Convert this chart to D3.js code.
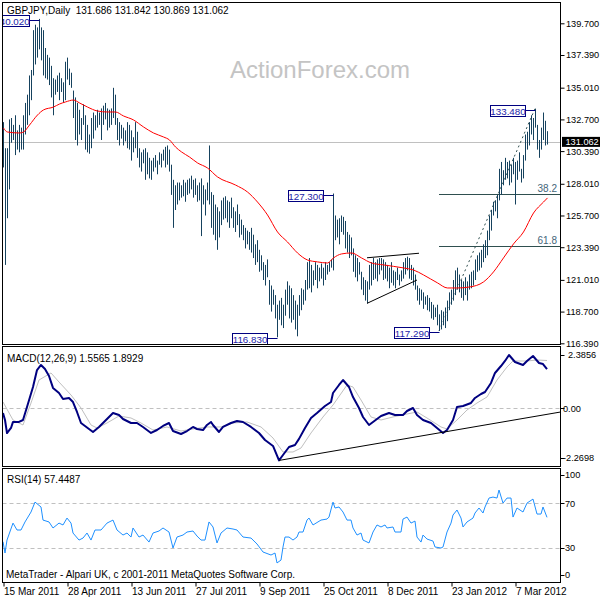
<!DOCTYPE html>
<html><head><meta charset="utf-8">
<script src="https://cdn.jsdelivr.net/npm/d3@7"></script>
<style>
body{margin:0;background:#fff}
svg{display:block}
text{font-family:"Liberation Sans",Arial,sans-serif;font-size:10px;fill:#000}
text.ax{font-size:9.2px}
text.bx{font-size:9.8px}
</style></head>
<body><svg id="chart" width="600" height="600"></svg>
<script>
// ---------------- DATA ----------------
const symbolTitle = "GBPJPY,Daily";
const lastOHLC = ["131.686", "131.842", "130.869", "131.062"];
const lastClose = 131.062;
const watermark = "ActionForex.com";
const footer = "MetaTrader - Alpari UK, c 2001-2011 MetaQuotes Software Corp.";

const dateLabels = ["15 Mar 2011","28 Apr 2011","13 Jun 2011","27 Jul 2011","9 Sep 2011","25 Oct 2011","8 Dec 2011","23 Jan 2012","7 Mar 2012"];
const dateLabelBars = [0,32,64,96,128,160,192,224,256];

const priceTicks = [139.700,137.390,135.010,132.700,130.390,128.010,125.700,123.390,121.010,118.700,116.390];

const high = [
132.5,130.6,130.6,132.7,132.8,132.3,133.0,131.9,132.3,132.1,
133.0,133.9,134.5,135.9,136.3,139.2,139.6,139.4,140.02,139.4,
139.2,137.9,137.4,137.2,136.6,135.7,135.6,135.9,136.1,135.7,
135.4,136.9,137.2,136.4,136.1,134.8,134.3,133.9,133.4,132.8,
133.8,133.0,132.3,131.6,132.8,133.2,133.0,133.4,133.2,133.5,
133.7,133.9,133.5,133.4,133.5,135.0,134.5,132.8,132.5,132.3,
132.1,131.9,132.5,132.3,131.9,131.4,132.5,131.8,130.6,130.3,
130.5,130.6,130.3,129.9,129.7,129.9,130.1,129.7,130.3,130.2,
130.5,130.7,130.8,130.5,129.4,128.3,127.9,128.1,128.1,127.9,
128.3,128.1,128.3,128.4,128.6,128.3,128.4,127.9,128.1,128.4,
127.9,127.6,128.1,130.8,127.4,127.2,126.5,126.3,126.0,126.8,
127.0,127.1,126.8,126.7,127.0,126.3,126.0,126.5,125.8,125.4,
125.0,124.8,124.6,124.5,124.8,124.3,123.6,123.9,123.2,122.8,
122.3,122.1,122.5,121.0,120.6,120.3,119.9,119.2,119.5,119.7,
119.2,120.3,120.9,120.6,120.4,119.9,119.5,119.2,119.9,120.4,
120.3,121.0,122.3,122.6,122.1,121.7,122.3,122.1,121.9,122.2,
121.9,122.3,122.1,122.3,122.5,127.3,125.7,125.4,125.5,125.7,
125.6,125.3,124.5,124.3,124.1,123.3,122.8,122.6,122.3,121.6,
121.2,121.0,120.9,122.1,122.3,122.6,122.3,122.5,122.6,122.6,
122.5,122.3,122.1,121.9,122.3,121.7,121.6,121.9,121.4,121.7,
122.3,122.6,122.7,122.6,122.1,121.9,121.4,120.6,120.4,120.3,
120.1,119.8,119.9,119.7,119.4,119.2,119.0,119.2,118.5,118.8,
118.7,119.0,119.5,120.1,120.3,121.0,121.7,121.9,121.4,121.0,
120.9,121.2,120.9,121.4,121.6,121.7,122.5,122.8,123.0,123.2,
123.6,123.9,124.6,125.7,126.1,126.7,126.8,127.2,129.1,129.6,
129.0,129.9,129.6,129.7,129.4,129.9,129.6,129.7,130.3,129.1,
130.1,131.6,131.8,132.5,133.0,132.8,133.48,132.3,131.2,132.1,
133.2,132.6,131.842];

const low = [
129.2,122.1,125.5,127.6,131.0,131.2,130.1,130.5,130.3,130.5,
130.5,131.6,132.3,133.0,134.1,135.9,136.7,137.2,137.8,137.0,
135.9,135.7,135.6,135.2,134.3,133.0,134.5,134.7,134.1,134.7,
133.9,134.1,135.6,135.2,135.0,132.8,131.2,130.8,131.6,131.2,
132.3,130.5,130.3,130.2,130.6,131.3,131.9,132.1,132.3,131.2,
132.3,132.7,131.9,132.1,132.3,132.8,132.3,131.2,130.8,131.3,
130.8,131.1,130.6,130.5,129.7,130.3,130.6,129.9,129.2,128.9,
129.5,128.3,128.7,128.4,128.3,128.9,129.2,128.7,129.4,129.2,
129.7,129.2,129.4,128.9,127.2,124.8,126.1,126.5,126.8,127.0,
127.1,126.7,127.2,127.3,127.6,127.0,127.2,126.7,126.8,124.2,
126.5,125.7,126.8,126.5,124.8,124.3,123.9,123.2,124.1,125.0,
125.4,125.5,125.2,124.8,125.5,124.8,124.5,125.0,124.1,124.3,
123.9,123.3,123.6,123.2,123.0,122.6,122.1,122.3,121.6,121.7,
121.0,120.6,121.2,119.2,118.7,119.2,118.2,116.83,118.1,117.7,
117.5,118.4,119.2,118.2,117.9,118.1,117.4,116.9,118.4,118.8,
119.2,119.5,120.3,120.4,120.1,120.6,121.0,120.4,120.9,121.1,
120.6,121.0,121.4,121.6,121.9,121.7,123.9,124.1,123.6,124.5,
124.3,123.3,123.0,122.6,122.8,121.6,121.2,120.9,121.4,120.3,
119.9,119.5,119.3,120.3,120.6,121.0,121.1,120.9,121.4,121.7,
121.0,121.1,120.9,120.4,120.8,120.6,120.4,121.0,120.6,120.9,
121.1,121.4,121.7,121.1,121.0,120.6,120.3,119.5,119.2,119.5,
118.9,119.2,118.8,118.7,118.2,118.1,118.3,117.7,117.29,117.4,
117.7,117.5,118.0,118.8,119.2,119.5,119.9,120.3,120.1,119.7,
119.5,119.9,119.5,120.3,120.4,120.6,121.0,121.6,121.7,121.9,
122.3,122.6,122.8,123.9,124.6,125.7,126.0,125.5,126.8,127.2,
127.9,128.3,128.4,127.9,128.1,128.7,126.5,128.3,128.9,128.1,
128.4,129.7,130.5,130.8,131.6,131.2,132.1,130.5,129.9,130.5,
131.2,130.8,130.869];

const maBars = [0,2,8,10,13,17,20,25,28,31,35,38,42,47,52,56,60,65,70,75,80,83,86,89,93,97,102,107,116,122,127,132,137,142,147,152,157,162,165,169,174,179,184,190,200,205,210,217,222,227,233,240,245,250,255,260,265,270,272];
const maValues = [132.07,131.78,131.71,131.78,132.29,133.02,133.39,133.6,133.82,133.97,134.11,133.9,133.6,133.31,133.24,133.24,132.95,132.66,132.15,131.71,131.42,131.2,130.69,130.33,129.96,129.53,129.16,128.51,127.92,127.41,126.68,125.74,124.5,123.77,122.97,122.46,122.32,122.24,122.61,122.9,122.97,122.61,122.24,122.1,121.88,121.73,121.37,120.79,120.42,120.42,120.49,120.86,121.59,122.61,123.63,124.5,125.88,126.68,126.98];

const extremeBars = [18,137,165,218,266];
const extremePrices = [140.02,116.83,127.30,117.29,133.48];

const fiboLevels = [38.2,61.8];
const fiboBars = [218,266];
const fiboPrices = [117.29,133.48];

const triUpperBars = [182,208];
const triUpperPrices = [122.62,122.95];
const triLowerBars = [182,207];
const triLowerPrices = [119.3,121.0];

const macdTitle = "MACD(12,26,9)";
const macdLast = ["1.5565","1.8929"];
const macdRange = [-2.2698, 2.3856];
const macdBars = [0,1,2,4,5,8,10,12,15,17,19,21,23,25,28,30,33,35,37,39,41,45,48,52,55,58,60,64,67,70,74,77,80,83,85,89,92,95,97,100,102,104,105,108,110,114,117,120,124,128,131,135,138,140,143,146,148,151,154,157,161,164,165,168,170,173,175,178,180,183,185,189,193,196,200,202,205,207,210,214,217,220,222,225,227,230,234,236,239,241,244,246,249,251,253,256,260,262,265,268,270,272];
const macdValues = [-0.18,-0.455,-0.97,-0.77,-0.53,-0.53,-0.455,0.06,0.847,1.517,
1.715,1.557,1.28,0.81,0.61,0.374,0.413,0.255,-0.139,-0.573,
-0.69,-0.928,-0.73,-0.415,-0.18,-0.257,-0.415,-0.573,-0.573,-0.73,
-0.967,-0.85,-0.69,-0.573,-0.89,-1.007,-0.89,-0.73,-0.81,-0.85,
-0.652,-0.533,-0.652,-0.928,-0.73,-0.573,-0.494,-0.533,-0.73,-0.967,
-1.244,-1.48,-2.05,-1.835,-1.52,-1.44,-1.2,-0.77,-0.376,-0.18,
0.097,0.255,0.61,0.926,1.123,0.847,0.452,0.019,-0.336,-0.652,
-0.533,-0.297,-0.18,-0.257,-0.257,-0.1,0.019,-0.257,-0.455,-0.573,
-0.77,-0.967,-0.85,-0.455,0.058,0.097,0.216,0.413,0.571,0.65,
1.005,1.4,1.675,1.873,2.11,1.833,1.715,1.873,2.07,1.794,
1.754,1.5565];
const signalBars = [0,5,10,14,18,24,28,34,39,44,47,52,58,64,69,75,82,89,95,102,109,115,122,129,135,140,145,149,154,160,165,172,175,179,184,189,195,202,207,212,219,222,227,232,237,242,247,252,255,262,267,272];
const signalValues = [0.255,-0.455,-0.652,0.216,1.123,1.4,1.044,0.531,0.019,-0.652,-0.77,-0.573,-0.297,-0.376,-0.573,-0.85,-0.73,-0.89,-0.81,-0.73,-0.73,-0.573,-0.533,-0.73,-1.165,-1.717,-1.717,-1.56,-0.967,-0.336,0.137,0.926,0.847,0.334,-0.336,-0.455,-0.336,-0.218,-0.139,-0.376,-0.73,-0.81,-0.455,-0.06,0.216,0.452,1.123,1.636,1.873,1.873,1.912,1.8929];
const macdTrendBars = [138, 278.75];
const macdTrendValues = [-2.05, -0.14];
const macdTickLabels = ["2.3856","0.00","-2.2698"];
const macdTickValues = [2.3856, 0, -2.2698];

const rsiTitle = "RSI(14)";
const rsiLast = "57.4487";
const rsiTicks = [100,70,30,0];
const rsiLevels = [70,30];
const rsiBars = [0,1,2,5,7,9,11,14,16,19,20,23,25,28,30,32,34,35,38,40,42,44,46,49,52,55,57,60,62,64,65,68,70,73,75,78,80,83,85,87,90,92,95,97,99,101,103,105,107,109,112,115,117,120,124,127,130,134,136,137,139,140,141,143,145,147,148,150,152,153,155,159,162,163,165,166,168,170,172,174,175,177,179,180,183,185,187,189,191,192,195,196,199,200,202,204,206,207,209,210,212,215,216,219,220,222,224,225,227,229,230,232,235,236,238,240,241,243,245,247,248,250,252,254,255,257,260,262,265,267,269,270,272];
const rsiValues = [35.6,25.5,37.1,52.3,46.1,46.1,53.3,62.2,71.1,66.7,
55,53.3,47.9,52.3,50.6,56.8,52.3,43.4,37.1,38.9,
43.4,37.1,46.1,46.1,52.3,55,46.1,41.6,43.4,39.8,
47.9,39.8,41.6,35.3,43.4,45.2,47.9,44.3,30,39.8,
41.6,44.3,45.2,40.7,37.1,37.1,53.3,48.8,34.5,43.4,
47.9,47,46.1,39.8,38.9,33.6,26.4,23.7,25.5,16.6,
19.2,30.9,39.8,39.8,37.1,39.8,44.3,44.3,55,56.8,
50.6,55,55.9,57.7,71.1,65.8,66.7,62.2,55,55,
47.9,41.6,43.4,37.1,34.5,44.3,50.6,48.8,50.6,47.9,
48.8,44.3,44.3,55.9,57.7,52.3,54.1,39.8,35.3,41.6,
38,36.2,30.9,30,30.9,44.3,52.3,59.5,64,56.8,
48.8,53.3,56.8,61.3,65.8,61.3,66.7,74.7,75.6,74.7,
81.9,70.2,74.7,74.7,57.7,65.8,62.2,70.2,73.8,60.4,
60.4,66.7,57.4487];

// ---------------- LAYOUT ----------------
const L = 2.5, R = 560.5;
const mainP = {top: 2.5, bottom: 344.5};
const macdP = {top: 346.5, bottom: 466.5};
const rsiP  = {top: 468.5, bottom: 582.5};

const svg = d3.select("#chart");
const defs = svg.append("defs");
function clip(id, p){
  defs.append("clipPath").attr("id", id).append("rect")
    .attr("x", L+0.5).attr("y", p.top+0.5).attr("width", R-L-1).attr("height", p.bottom-p.top-1);
}
clip("cMain", mainP); clip("cMacd", macdP); clip("cRsi", rsiP);

const x = d3.scaleLinear().domain([0, 278.75]).range([3, 560.5]);
const yP = d3.scaleLinear().domain([116.39, 139.70]).range([343.3, 23.3]);
const yM = d3.scaleLinear().domain(macdRange).range([466, 348]);
const yR = d3.scaleLinear().domain([0, 100]).range([581.5, 469.8]);

// ---------------- MAIN PANEL ----------------
const gMain = svg.append("g").attr("clip-path", "url(#cMain)");

gMain.append("text").attr("x", 230).attr("y", 78)
  .style("font-size", "24px").style("fill", "#c4c4c4").text(watermark);

// current price line
gMain.append("line").attr("x1", L).attr("x2", R)
  .attr("y1", Math.round(yP(lastClose)) + 0.5).attr("y2", Math.round(yP(lastClose)) + 0.5)
  .attr("stroke", "#c0c0c0").attr("stroke-width", 1);

// fibonacci
const fiboRange = fiboPrices[1] - fiboPrices[0];
fiboLevels.forEach(lv => {
  const p = fiboPrices[1] - fiboRange * lv / 100;
  const yy = Math.round(yP(p)) + 0.5;
  gMain.append("line").attr("x1", x(fiboBars[0])).attr("x2", R).attr("y1", yy).attr("y2", yy)
    .attr("stroke", "#2f4f4f").attr("stroke-width", 1);
  gMain.append("text").attr("x", 557).attr("y", yy - 3).attr("text-anchor", "end")
    .style("fill", "#44667a").text(lv.toFixed(1));
});
gMain.append("line")
  .attr("x1", x(fiboBars[0])).attr("y1", yP(fiboPrices[0]))
  .attr("x2", x(fiboBars[1])).attr("y2", yP(fiboPrices[1]))
  .attr("stroke", "#2f4f4f").attr("stroke-width", 1).attr("stroke-dasharray", "2,3");

// OHLC bars (high-low)
gMain.selectAll("line.bar").data(d3.range(high.length)).join("line").attr("class", "bar")
  .attr("x1", i => x(i) + 0.5).attr("x2", i => x(i) + 0.5)
  .attr("y1", i => yP(high[i])).attr("y2", i => yP(low[i]))
  .attr("stroke", "#16425e").attr("stroke-width", 1);

// moving average
gMain.append("path").datum(d3.range(maBars.length))
  .attr("fill", "none").attr("stroke", "#ff0000").attr("stroke-width", 1)
  .attr("d", d3.line().x(i => x(maBars[i]) + 0.5).y(i => yP(maValues[i])).curve(d3.curveMonotoneX));

// triangle
[[triUpperBars, triUpperPrices],[triLowerBars, triLowerPrices]].forEach(([b, p]) => {
  gMain.append("line").attr("x1", x(b[0])).attr("y1", yP(p[0])).attr("x2", x(b[1])).attr("y2", yP(p[1]))
    .attr("stroke", "#000").attr("stroke-width", 1);
});

// extreme price labels
extremeBars.forEach((b, k) => {
  const py = Math.round(yP(extremePrices[k]) + 1) + 0.5;
  const bx = x(b) + 0.5;
  const right = bx - 10;
  const w = 35;
  gMain.append("line").attr("x1", right).attr("x2", bx).attr("y1", py).attr("y2", py)
    .attr("stroke", "#000080").attr("stroke-width", 1);
  gMain.append("rect").attr("x", right - w).attr("y", py - 5).attr("width", w).attr("height", 11)
    .attr("fill", "#fff").attr("stroke", "#000080").attr("stroke-width", 1);
  gMain.append("text").attr("x", right - w / 2).attr("y", py + 4).attr("text-anchor", "middle")
    .attr("class", "bx").style("fill", "#2323a8").text(extremePrices[k].toFixed(3));
});

// title
svg.append("text").attr("x", 7).attr("y", 13.5).attr("xml:space", "preserve")
  .text(symbolTitle + "  " + lastOHLC.join(" "));

// ---------------- MACD PANEL ----------------
const gMacd = svg.append("g").attr("clip-path", "url(#cMacd)");
gMacd.append("line").attr("x1", L).attr("x2", R)
  .attr("y1", Math.round(yM(0)) + 0.5).attr("y2", Math.round(yM(0)) + 0.5)
  .attr("stroke", "#c0c0c0").attr("stroke-dasharray", "4,3");
gMacd.append("path").datum(d3.range(signalBars.length))
  .attr("fill", "none").attr("stroke", "#c0c0c0").attr("stroke-width", 1)
  .attr("d", d3.line().x(i => x(signalBars[i])).y(i => yM(signalValues[i])));
gMacd.append("path").datum(d3.range(macdBars.length))
  .attr("fill", "none").attr("stroke", "#000080").attr("stroke-width", 2).attr("stroke-linejoin", "round")
  .attr("d", d3.line().x(i => x(macdBars[i])).y(i => yM(macdValues[i])));
gMacd.append("line")
  .attr("x1", x(macdTrendBars[0])).attr("y1", yM(macdTrendValues[0]))
  .attr("x2", x(macdTrendBars[1])).attr("y2", yM(macdTrendValues[1]))
  .attr("stroke", "#000").attr("stroke-width", 1);
svg.append("text").attr("x", 7).attr("y", 361.5).text(macdTitle + " " + macdLast.join(" "));

// ---------------- RSI PANEL ----------------
const gRsi = svg.append("g").attr("clip-path", "url(#cRsi)");
rsiLevels.forEach(v => {
  gRsi.append("line").attr("x1", L).attr("x2", R)
    .attr("y1", Math.round(yR(v)) + 0.5).attr("y2", Math.round(yR(v)) + 0.5)
    .attr("stroke", "#c0c0c0").attr("stroke-dasharray", "4,3");
});
gRsi.append("path").datum(d3.range(rsiBars.length))
  .attr("fill", "none").attr("stroke", "#1e90ff").attr("stroke-width", 1)
  .attr("d", d3.line().x(i => x(rsiBars[i])).y(i => yR(rsiValues[i])));
svg.append("text").attr("x", 7).attr("y", 482.5).text(rsiTitle + " " + rsiLast);
svg.append("text").attr("x", 6).attr("y", 577.5).text(footer);

// ---------------- FRAMES ----------------
[mainP, macdP, rsiP].forEach(p => {
  svg.append("rect").attr("x", L).attr("y", p.top).attr("width", R - L).attr("height", p.bottom - p.top)
    .attr("fill", "none").attr("stroke", "#000").attr("stroke-width", 1);
});

// ---------------- AXES ----------------
const axP = svg.append("g").attr("transform", `translate(${R},0)`)
  .call(d3.axisRight(yP).tickValues(priceTicks).tickFormat(d3.format(".3f")).tickSize(4).tickSizeOuter(0).tickPadding(1.5));
axP.select(".domain").remove();
axP.selectAll("text").attr("class", "ax").attr("fill", null);
axP.attr("font-family", null).attr("font-size", null);

// current price marker
const cy = yP(lastClose);
svg.append("rect").attr("x", 562).attr("y", cy - 5).attr("width", 38).attr("height", 10).attr("fill", "#000");
svg.append("text").attr("class", "ax").attr("x", 565.5).attr("y", cy + 3.3).style("fill", "#fff").text(lastClose.toFixed(3));

// MACD labels
macdTickValues.forEach((v, k) => {
  const yy = Math.max(macdP.top + 8.5, Math.min(macdP.bottom - 8.5, yM(v)));
  svg.append("line").attr("x1", R).attr("x2", R + 4).attr("y1", Math.round(yy) + 0.5).attr("y2", Math.round(yy) + 0.5).attr("stroke", "#000");
  svg.append("text").attr("class", "ax").attr("x", v > 0 ? 568 : 563).attr("y", yy + 3.3).text(macdTickLabels[k]);
});

// RSI labels
rsiTicks.forEach(v => {
  const yy = Math.max(rsiP.top + 6.5, Math.min(rsiP.bottom - 7.5, yR(v)));
  svg.append("line").attr("x1", R).attr("x2", R + 4).attr("y1", Math.round(yy) + 0.5).attr("y2", Math.round(yy) + 0.5).attr("stroke", "#000");
  svg.append("text").attr("class", "ax").attr("x", 565).attr("y", yy + 3.3).text(String(v));
});

// date axis
const axX = svg.append("g").attr("transform", `translate(0,${rsiP.bottom})`)
  .call(d3.axisBottom(x).tickValues(dateLabelBars).tickFormat((d, i) => dateLabels[i]).tickSize(4).tickSizeOuter(0).tickPadding(2));
axX.select(".domain").remove();
axX.attr("font-family", null).attr("font-size", null);
axX.selectAll(".tick line").attr("transform", "translate(0.5,0)");
axX.selectAll("text").attr("text-anchor", "start").attr("x", 0.5).attr("dy", null).attr("y", 12.5).attr("fill", null);
</script></body></html>
